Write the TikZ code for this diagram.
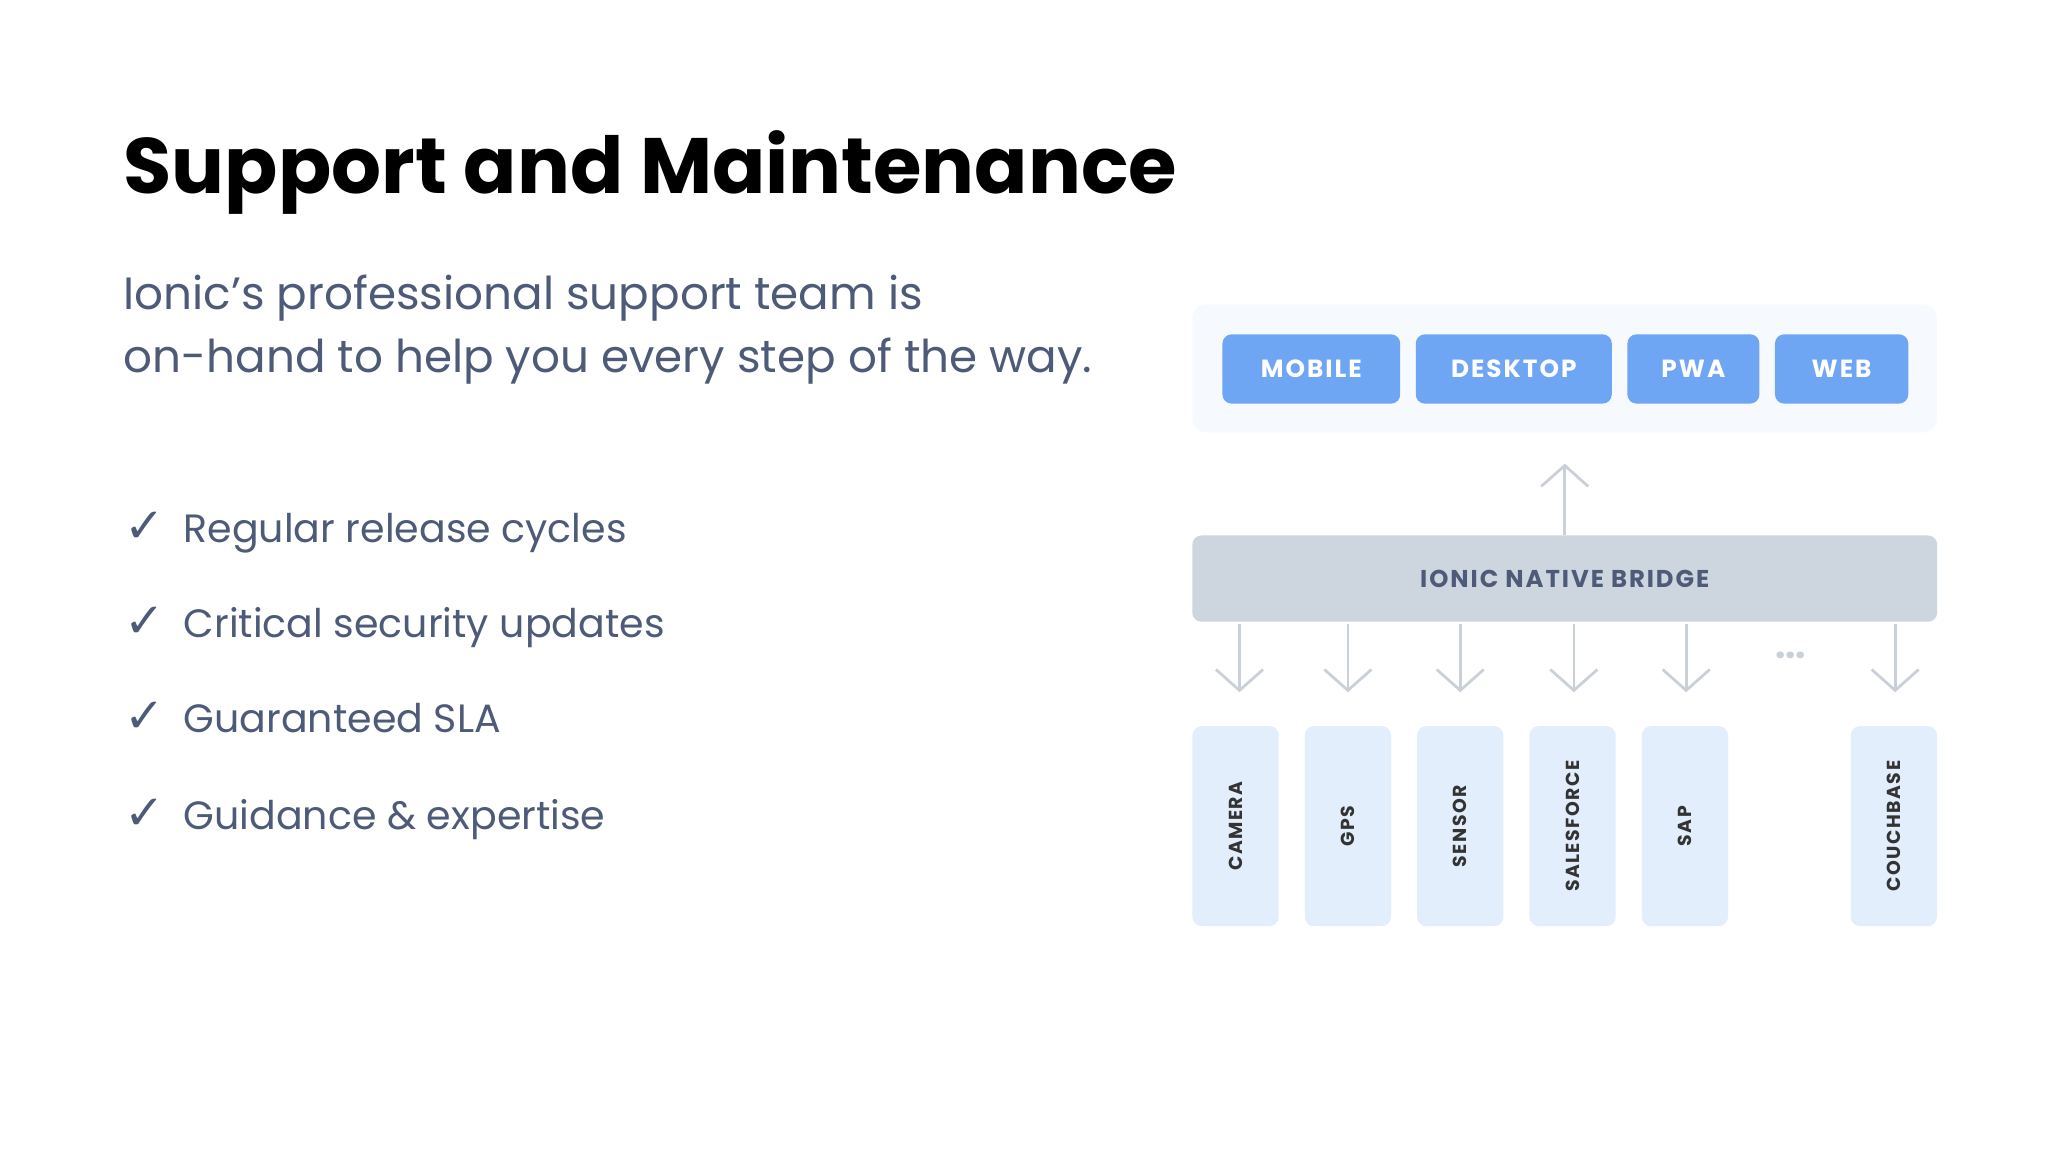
\documentclass[tikz,border=0pt]{standalone}
\usepackage{fontspec}
\setmainfont{Poppins}
\newfontfamily\symfont{DejaVu Sans}
\newfontfamily\spaced[LetterSpace=8]{Poppins}
\usetikzlibrary{arrows.meta}
\definecolor{txt}{HTML}{4E5B78}
\definecolor{btn}{HTML}{6FA6F4}
\definecolor{bridge}{HTML}{CDD6DF}
\definecolor{arr}{HTML}{C9D0D8}
\definecolor{leaf}{HTML}{E3EEFC}
\definecolor{panel}{HTML}{F6F9FD}
\tikzset{
 btnbox/.style={fill=btn,rounded corners=2pt,text=white,font=\fontsize{5.4pt}{7pt}\spaced\bfseries,inner sep=0pt,minimum height=0.53cm},
 leafbox/.style={fill=leaf,rounded corners=2pt,inner sep=0pt,minimum width=0.66cm,minimum height=1.53cm},
 leaftxt/.style={rotate=90,font=\fontsize{4.1pt}{5pt}\spaced\bfseries,text=black!80},
 arrline/.style={draw=arr,line width=0.6pt,-{Straight Barb[length=1.6mm,width=3.6mm]}},
 item/.style={anchor=base west,inner sep=0pt,text=txt,font=\fontsize{8.6pt}{11pt}\selectfont},
}
\begin{document}
\begin{tikzpicture}[x=0.01cm,y=-0.01cm]
\useasboundingbox[fill=white] (0,0) rectangle (1568,882);
\node[anchor=base west,inner sep=0pt,font=\fontsize{17.1pt}{20pt}\selectfont\bfseries] (title) at (94,148) {Support and Maintenance};
\node[anchor=base west,inner sep=0pt,text=txt,font=\fontsize{9.85pt}{12pt}\selectfont] (s1) at (94,237) {Ionic’s professional support team is};
\node[anchor=base west,inner sep=0pt,text=txt,font=\fontsize{9.85pt}{12pt}\selectfont] (s2) at (94,285) {on-hand to help you every step of the way.};
\foreach \y/\t [count=\i] in {415/Regular release cycles,488/Critical security updates,561/Guaranteed SLA,635/Guidance \& expertise}{
 \node[item,font=\fontsize{10.5pt}{11pt}\symfont] (c\i) at (95,\y) {✓};
 \node[item] (t\i) at (140,\y) {\t};
}
\fill[panel,rounded corners=3pt] (913,233) rectangle (1483,331);
\node[btnbox,minimum width=1.36cm] (mob) at (1004,282.5) {MOBILE};
\node[btnbox,minimum width=1.50cm] (desk) at (1159,282.5) {DESKTOP};
\node[btnbox,minimum width=1.01cm] (pwa) at (1296.5,282.5) {PWA};
\node[btnbox,minimum width=1.02cm] (web) at (1410,282.5) {WEB};
\node[fill=bridge,rounded corners=2pt,minimum width=5.7cm,minimum height=0.66cm,inner sep=0pt,text=txt,font=\fontsize{5.3pt}{7pt}\spaced\bfseries] (br) at (1198,443) {IONIC NATIVE BRIDGE};
\coordinate (up) at (1198,355);
\draw[arrline] (br.north -| up) -- (up);
\foreach \x/\w [count=\i] in {946/CAMERA,1032/GPS,1118/SENSOR,1204/SALESFORCE,1290/SAP,1450/COUCHBASE}{
 \node[leafbox] (l\i) at (\x,632.5) {};
 \node[leaftxt] at (l\i) {\w};
}
\foreach \x/\i in {949/1,1032/2,1118/3,1205/4,1291/5,1451/6}{
 \coordinate (a\i) at (\x,478);
 \coordinate (b\i) at (\x,530);
 \draw[arrline] (a\i) -- (b\i);
}
\node[text=arr,font=\fontsize{8pt}{8pt}\selectfont\bfseries] (dots) at (1371,502) {...};
\end{tikzpicture}
\end{document}
